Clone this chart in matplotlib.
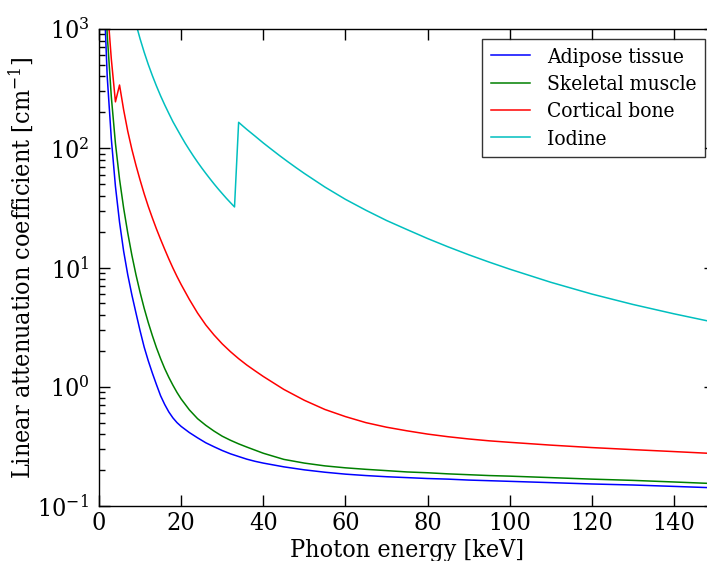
import matplotlib
matplotlib.use("Agg")
import matplotlib.pyplot as plt
from matplotlib.ticker import LogLocator, NullFormatter

plt.rcParams['font.family'] = ['DejaVu Serif']
plt.rcParams['font.stretch'] = 'condensed'
plt.rcParams['mathtext.fontset'] = 'dejavuserif'

# Photon energy [keV] and linear attenuation coefficients [1/cm]
energy_adipose = [1, 2, 3, 4, 5, 6, 7, 8, 9, 10, 11, 12, 13, 14, 15, 16, 17, 18, 19, 20,
                  22, 24, 26, 28, 30, 32, 34, 36, 38, 40, 45, 50, 55, 60, 65, 70, 75, 80,
                  85, 90, 95, 100, 110, 120, 130, 140, 150]
mu_adipose = [3000, 400, 120, 48, 24, 13.7, 8.7, 5.9, 4.16, 2.95, 2.15, 1.65, 1.30, 1.04,
              0.84, 0.71, 0.615, 0.548, 0.50, 0.465, 0.413, 0.373, 0.339, 0.314, 0.292,
              0.274, 0.260, 0.247, 0.237, 0.229, 0.213, 0.201, 0.192, 0.185, 0.180, 0.176,
              0.173, 0.170, 0.168, 0.165, 0.163, 0.161, 0.157, 0.153, 0.150, 0.146, 0.142]

energy_muscle = [1, 2, 3, 4, 5, 6, 7, 8, 9, 10, 11, 12, 13, 14, 15, 16, 17, 18, 19, 20,
                 22, 24, 26, 28, 30, 32, 34, 36, 38, 40, 45, 50, 55, 60, 65, 70, 75, 80,
                 85, 90, 95, 100, 110, 120, 130, 140, 150]
mu_muscle = [6000, 900, 270, 110, 55, 31.5, 19.5, 12.7, 8.7, 6.2, 4.55, 3.45, 2.68, 2.12,
             1.72, 1.42, 1.20, 1.03, 0.895, 0.79, 0.64, 0.54, 0.475, 0.425, 0.385, 0.356,
             0.332, 0.312, 0.294, 0.277, 0.246, 0.229, 0.217, 0.209, 0.203, 0.198, 0.193,
             0.190, 0.186, 0.183, 0.180, 0.178, 0.173, 0.168, 0.164, 0.159, 0.154]

energy_bone = [1, 2, 3, 4, 5, 6, 7, 8, 9, 10, 11, 12, 13, 14, 15, 16, 17, 18, 19, 20,
               22, 24, 26, 28, 30, 32, 34, 36, 38, 40, 45, 50, 55, 60, 65, 70, 75, 80,
               85, 90, 95, 100, 110, 120, 130, 140, 150]
mu_bone = [5000, 1600, 560, 245, 339, 210, 139, 98, 72, 54.2, 41.5, 32.5, 26.0, 21.0,
           17.2, 14.2, 11.8, 9.9, 8.4, 7.2, 5.4, 4.15, 3.30, 2.72, 2.29, 1.97, 1.72, 1.52,
           1.36, 1.22, 0.95, 0.77, 0.645, 0.562, 0.50, 0.458, 0.427, 0.401, 0.381, 0.365,
           0.352, 0.342, 0.324, 0.309, 0.297, 0.286, 0.275]

energy_iodine = [8, 9, 10, 11, 12, 13, 14, 15, 16, 17, 18, 19, 20, 21, 22, 23, 24, 25, 26,
                 27, 28, 29, 30, 31, 32, 33, 34, 35, 36, 38, 40, 42, 44, 46, 48, 50, 55,
                 60, 65, 70, 75, 80, 85, 90, 95, 100, 110, 120, 130, 140, 150]
mu_iodine = [1519, 1103, 828, 639, 504, 406, 332, 275, 231, 196, 167, 145, 126, 110, 97,
             85.9, 76.5, 68.5, 61.6, 55.6, 50.3, 45.7, 41.7, 38.1, 35.0, 32.2, 165, 153.9,
             143.8, 126.4, 110.8, 97.9, 86.6, 77.0, 68.7, 61.5, 47.3, 37.3, 30.2, 24.8,
             20.8, 17.5, 14.9, 12.8, 11.1, 9.69, 7.52, 5.99, 4.90, 4.09, 3.46]

labels = ["Adipose tissue", "Skeletal muscle", "Cortical bone", "Iodine"]
colors = ["b", "g", "r", "c"]

fig = plt.figure(figsize=(7.07, 5.61), dpi=100, facecolor="white")
ax = fig.add_axes([99 / 707, 55 / 561, 616 / 707, 477 / 561])

series = [(energy_adipose, mu_adipose), (energy_muscle, mu_muscle),
          (energy_bone, mu_bone), (energy_iodine, mu_iodine)]
for (e, mu), lab, col in zip(series, labels, colors):
    ax.plot(e, mu, color=col, lw=1.1, label=lab)

ax.set_yscale("log")
ax.set_xlim(0, 150)
ax.set_ylim(0.1, 1000)
ax.set_xticks([0, 20, 40, 60, 80, 100, 120, 140])
ax.yaxis.set_major_locator(LogLocator(base=10, numticks=10))
ax.yaxis.set_minor_locator(LogLocator(base=10, subs=range(2, 10), numticks=20))
ax.yaxis.set_minor_formatter(NullFormatter())

ax.tick_params(which="both", direction="in", top=True, right=True, labelsize=18)
ax.tick_params(axis="x", pad=4)
ax.tick_params(axis="y", pad=7)
ax.tick_params(which="major", length=8, width=1)
ax.tick_params(which="minor", length=4, width=1)
for s in ax.spines.values():
    s.set_linewidth(1.0)

ax.set_xlabel("Photon energy [keV]", fontsize=18, labelpad=3)
ax.set_ylabel("Linear attenuation coefficient [cm$^{-1}$]", fontsize=18, labelpad=2)

leg = ax.legend(loc="upper right", fontsize=15, frameon=True, fancybox=False,
                edgecolor="black", handlelength=1.9, labelspacing=0.4,
                borderaxespad=0.5)
leg.get_frame().set_linewidth(1.0)

fig.savefig("out.png", dpi=100, facecolor="white")
